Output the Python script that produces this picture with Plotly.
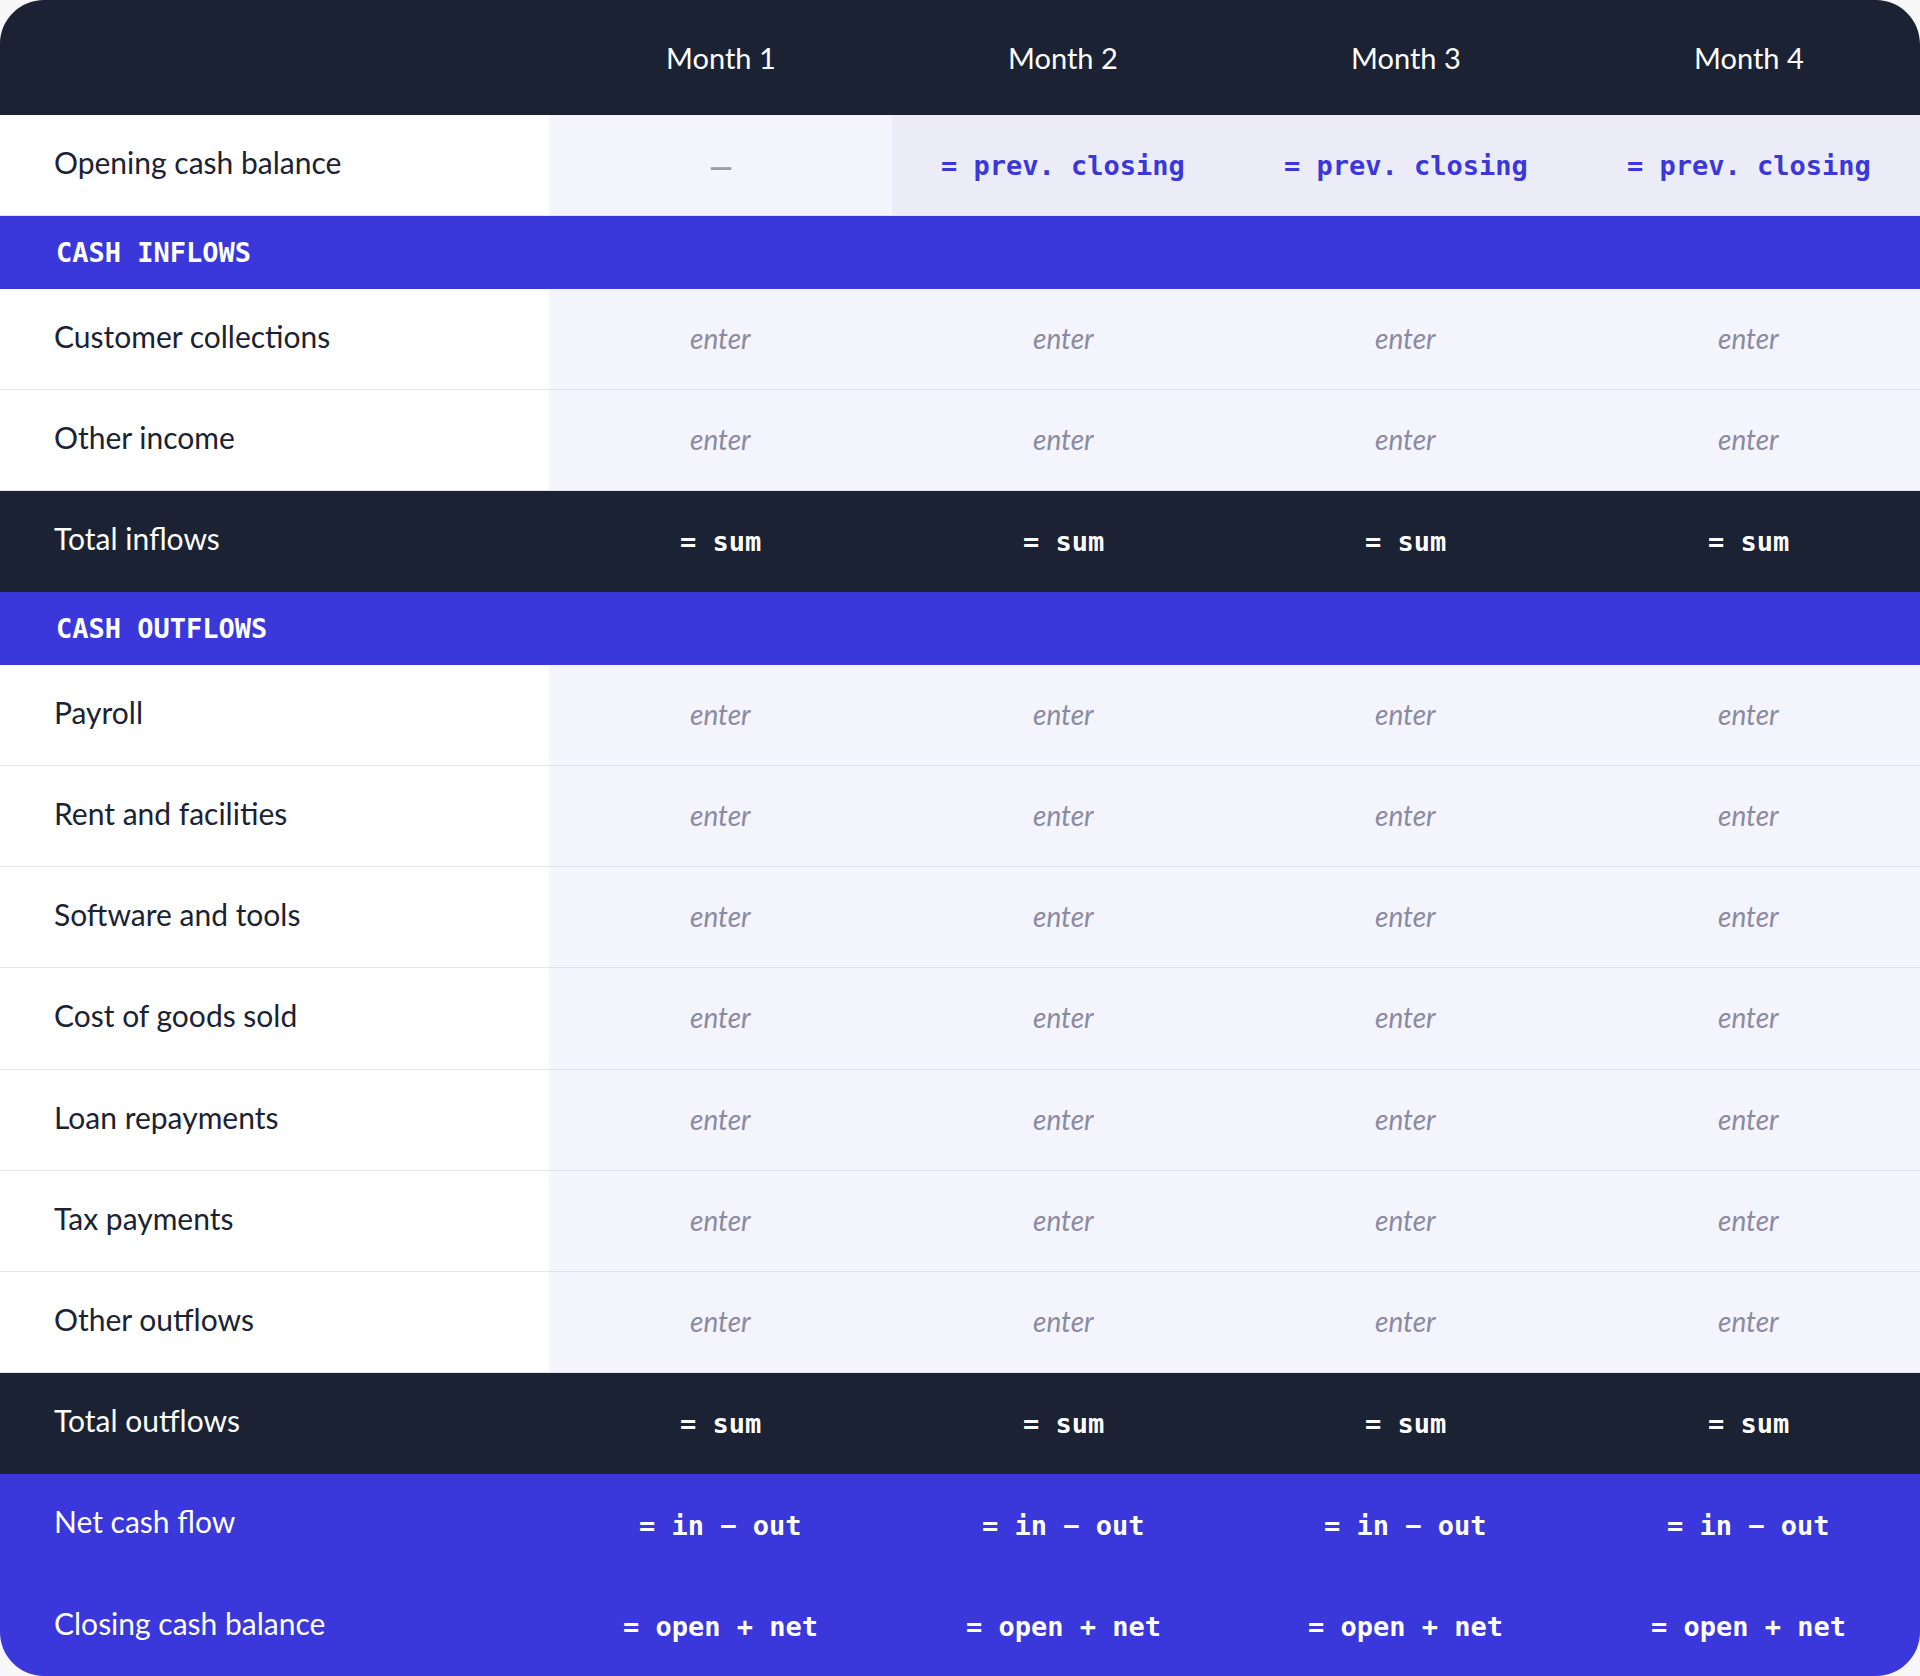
"""
    Cash flow forecast template drawn as a table of shapes and text
"""

##########==========##########==========##########==========##########==========
## HEADER
import plotly.graph_objects as go

##########==========##########==========##########==========##########==========
## DATA

MONTHS = ["Month 1", "Month 2", "Month 3", "Month 4"]

OPENING_LABEL = "Opening cash balance"
OPENING_VALUES = ["—", "= prev. closing", "= prev. closing", "= prev. closing"]

INFLOW_SECTION = "CASH INFLOWS"
INFLOW_ITEMS = ["Customer collections", "Other income"]

OUTFLOW_SECTION = "CASH OUTFLOWS"
OUTFLOW_ITEMS = [
    "Payroll", "Rent and facilities", "Software and tools", "Cost of goods sold",
    "Loan repayments", "Tax payments", "Other outflows",
]

INPUT_VALUE = "enter"
TOTAL_LABELS = ["Total inflows", "Total outflows"]
TOTAL_VALUE = "= sum"
RESULT_LABELS = ["Net cash flow", "Closing cash balance"]
RESULT_VALUES = ["= in − out", "= open + net"]

##########==========##########==========##########==========##########==========
## STYLE

params = {
    'width': 1920, 'height': 1676,
    'label_w': 549, 'pad': 54, 'radius': 44,
    'header_h': 115, 'row_h': 101.2, 'section_h': 72.5,
    'page': '#F7F7FA', 'dark': '#1B2234', 'indigo': '#3A37DB',
    'white': '#FFFFFF', 'cell': '#F4F4FC', 'cell_formula': '#ECECF8',
    'rule': '#E3E3EF', 'muted': '#8A8AA2',
    'sans': 'Lato', 'mono': 'DejaVu Sans Mono',
}


##########==========##########==========##########==========##########==========
## COMPONENT FUNCTIONS

def build_rows():
    """ lays the data out as an ordered list of table rows """
    rows = [dict(kind='header', label='', values=MONTHS)]
    rows.append(dict(kind='opening', label=OPENING_LABEL, values=OPENING_VALUES))
    rows.append(dict(kind='section', label=INFLOW_SECTION, values=None))
    for item in INFLOW_ITEMS:
        rows.append(dict(kind='input', label=item, values=[INPUT_VALUE] * len(MONTHS)))
    rows.append(dict(kind='total', label=TOTAL_LABELS[0], values=[TOTAL_VALUE] * len(MONTHS)))
    rows.append(dict(kind='section', label=OUTFLOW_SECTION, values=None))
    for item in OUTFLOW_ITEMS:
        rows.append(dict(kind='input', label=item, values=[INPUT_VALUE] * len(MONTHS)))
    rows.append(dict(kind='total', label=TOTAL_LABELS[1], values=[TOTAL_VALUE] * len(MONTHS)))
    for lab, val in zip(RESULT_LABELS, RESULT_VALUES):
        rows.append(dict(kind='result', label=lab, values=[val] * len(MONTHS)))
    return rows


def row_height(kind, p=params):
    if kind == 'header': return p['header_h']
    if kind == 'section': return p['section_h']
    return p['row_h']


def rect(x0, x1, y0, y1, color):
    return dict(type='rect', xref='x', yref='y', x0=x0, x1=x1, y0=y0, y1=y1,
                fillcolor=color, line_width=0, layer='below')


def text(x, y, s, family, size, color, anchor='center', lift=0):
    return dict(x=x, y=y, xref='x', yref='y', text=s, showarrow=False,
                xanchor=anchor, yanchor='middle', yshift=lift,
                font=dict(family=family, size=size, color=color))


def corner_masks(p=params):
    """ paints the page colour outside the rounded card corners """
    r, W, H, k = p['radius'], p['width'], p['height'], 0.5523
    c = r * (1 - k)
    paths = [
        f"M0,0 L{r},0 C{c},0 0,{c} 0,{r} Z",
        f"M{W},0 L{W - r},0 C{W - c},0 {W},{c} {W},{r} Z",
        f"M0,{H} L{r},{H} C{c},{H} 0,{H - c} 0,{H - r} Z",
        f"M{W},{H} L{W - r},{H} C{W - c},{H} {W},{H - c} {W},{H - r} Z",
    ]
    return [dict(type='path', path=pth, xref='x', yref='y', fillcolor=p['page'],
                 line_width=0, layer='above') for pth in paths]


##########==========##########==========##########==========##########==========
## TOP-LEVEL FUNCTION

def draw_table(p=params):
    rows = build_rows()
    W = p['width']
    col_w = (W - p['label_w']) / len(MONTHS)
    col_x0 = [round(p['label_w'] + i * col_w) for i in range(len(MONTHS))]
    col_x1 = col_x0[1:] + [W]
    col_mid = [(a + b) / 2 for a, b in zip(col_x0, col_x1)]

    shapes, notes = list(), list()
    y = 0.0
    for row in rows:
        kind = row['kind']
        y0, y1 = round(y), round(y + row_height(kind))
        ym = (y0 + y1) / 2
        y += row_height(kind)
        ## overlap one pixel so neighbouring fills leave no seam
        y1_fill = min(y1 + 1, p['height'])

        ## backgrounds
        if kind in ('header', 'total'):
            shapes.append(rect(0, W, y0, y1_fill, p['dark']))
        elif kind in ('section', 'result'):
            shapes.append(rect(0, W, y0, y1_fill, p['indigo']))
        else:
            shapes.append(rect(0, p['label_w'], y0, y1_fill, p['white']))
            for i, (x0, x1) in enumerate(zip(col_x0, col_x1)):
                fill = p['cell_formula'] if (kind == 'opening' and i > 0) else p['cell']
                shapes.append(rect(x0, x1, y0, y1_fill, fill))
            shapes.append(dict(type='line', xref='x', yref='y', x0=0, x1=W, y0=y1, y1=y1,
                               line=dict(color=p['rule'], width=2), layer='below'))

        ## row label
        if kind == 'section':
            notes.append(text(p['pad'], ym, '<b>' + row['label'] + '</b>',
                              p['mono'], 27, p['white'], 'left'))
        elif row['label']:
            color = p['dark'] if kind in ('opening', 'input') else p['white']
            notes.append(text(p['pad'] - 2, ym, row['label'], p['sans'], 30, color,
                              'left', lift=4))

        ## month cells
        if row['values'] is None:
            continue
        for xm, val in zip(col_mid, row['values']):
            if kind == 'header':
                notes.append(text(xm, ym, val, p['sans'], 29, p['white']))
            elif kind == 'input':
                notes.append(text(xm, ym, '<i>' + val + '</i>', p['sans'], 28,
                                  p['muted'], lift=2))
            elif kind == 'opening' and val == '—':
                notes.append(text(xm, ym, '<b>' + val + '</b>', p['sans'], 30, '#9A9AB0'))
            elif kind == 'opening':
                notes.append(text(xm, ym, '<b>' + val + '</b>', p['mono'], 27, p['indigo']))
            else:
                notes.append(text(xm, ym, '<b>' + val + '</b>', p['mono'], 27, p['white']))

    shapes.extend(corner_masks(p))

    fig = go.Figure()
    fig.update_layout(
        width=W, height=p['height'],
        margin=dict(t=0, l=0, r=0, b=0),
        paper_bgcolor=p['page'], plot_bgcolor=p['page'],
        xaxis=dict(range=[0, W], visible=False, fixedrange=True),
        yaxis=dict(range=[p['height'], 0], visible=False, fixedrange=True),
        shapes=shapes, annotations=notes,
        showlegend=False, hovermode=False,
    )
    return fig


##########==========##########==========##########==========##########==========
## RUN

if __name__ == '__main__':
    fig = draw_table()
    fig.write_html("out.html", config={'displayModeBar': False},
                   post_script="document.body.style.margin='0';"
                               "document.body.style.overflow='hidden';")
